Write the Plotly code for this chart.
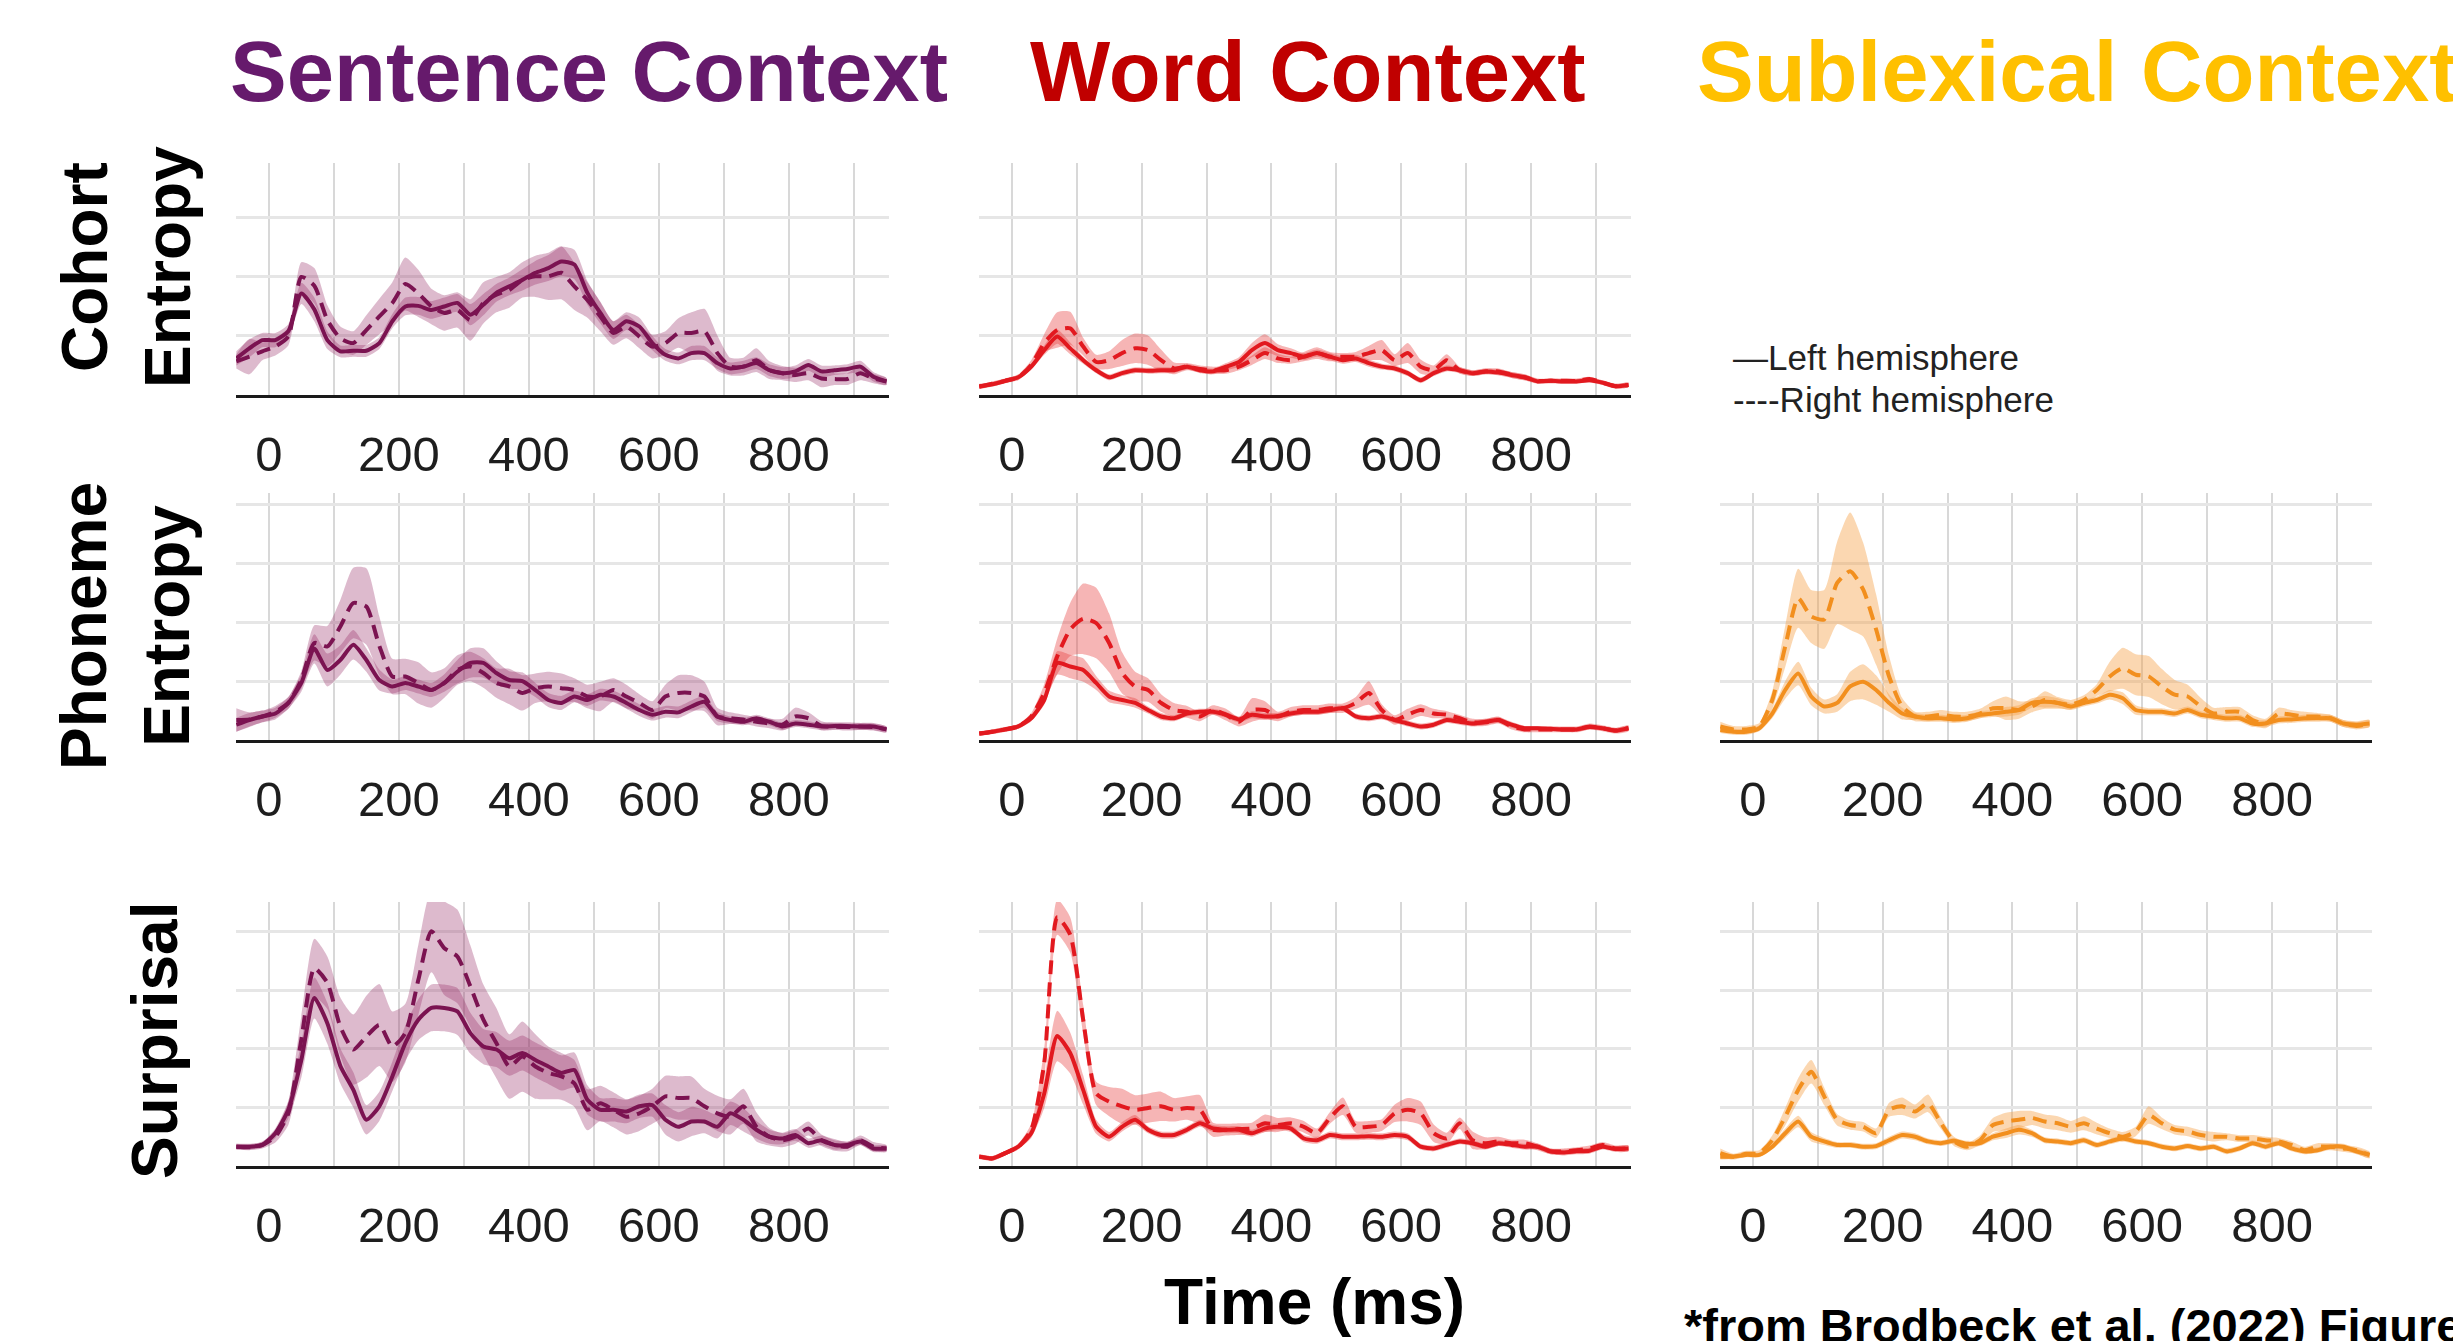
import plotly.graph_objects as go

PAGE_W, PAGE_H = 2461, 1341
OFF = 8                      # default page margin in front of the figure
W, H = PAGE_W - OFF, PAGE_H - OFF
T = list(range(-50, 951, 20))  # time axis (ms), 51 samples

# ---------------- Sentence context ----------------
SENT_COH_L = [0.62,0.79,0.93,0.93,1.08,1.72,1.45,0.93,0.74,0.75,0.75,0.88,1.25,1.50,1.51,1.44,1.50,1.56,1.36,1.53,
              1.73,1.84,1.95,2.07,2.15,2.26,2.21,1.73,1.39,1.10,1.25,1.16,0.88,0.68,0.62,0.71,0.71,0.54,0.45,0.48,
              0.54,0.42,0.37,0.40,0.51,0.40,0.42,0.44,0.48,0.31,0.23]
SENT_COH_R = [0.57,0.65,0.74,0.82,0.99,2.00,1.85,1.27,0.96,0.88,1.10,1.33,1.56,1.88,1.72,1.50,1.39,1.44,1.27,1.56,
              1.70,1.78,1.95,2.01,2.01,2.07,1.84,1.61,1.33,1.05,1.16,0.99,0.82,0.88,1.05,1.05,1.08,0.71,0.48,0.48,
              0.59,0.42,0.37,0.34,0.37,0.28,0.27,0.27,0.37,0.28,0.23]
SENT_COH_L_HW = [0.12,0.15,0.12,0.12,0.12,0.18,0.2,0.15,0.1,0.1,0.1,0.1,0.12,0.15,0.15,0.15,0.15,0.15,0.18,0.18,
                 0.15,0.15,0.18,0.2,0.22,0.25,0.25,0.2,0.18,0.15,0.15,0.15,0.12,0.1,0.1,0.12,0.12,0.1,0.1,0.1,
                 0.1,0.1,0.1,0.1,0.1,0.1,0.08,0.08,0.1,0.08,0.06]
SENT_COH_R_HW = [0.12,0.3,0.15,0.15,0.15,0.25,0.3,0.25,0.2,0.2,0.25,0.3,0.35,0.45,0.4,0.3,0.3,0.3,0.35,0.35,
                 0.3,0.3,0.3,0.35,0.4,0.45,0.4,0.3,0.25,0.2,0.2,0.2,0.2,0.2,0.25,0.35,0.38,0.3,0.15,0.15,
                 0.2,0.15,0.12,0.12,0.12,0.15,0.1,0.1,0.12,0.08,0.06]

SENT_PHO_L = [0.26,0.34,0.40,0.45,0.63,0.97,1.55,1.19,1.36,1.62,1.36,1.02,0.91,0.97,0.91,0.85,0.97,1.16,1.31,1.31,
              1.14,1.02,1.00,0.85,0.68,0.63,0.74,0.68,0.77,0.74,0.63,0.51,0.43,0.48,0.47,0.57,0.65,0.40,0.34,0.31,
              0.37,0.31,0.23,0.28,0.26,0.23,0.24,0.24,0.23,0.23,0.18]
SENT_PHO_R = [0.34,0.35,0.40,0.48,0.63,1.02,1.65,1.59,1.93,2.33,2.27,1.60,1.08,1.08,0.97,0.85,0.97,1.19,1.25,1.14,
              0.97,0.91,0.80,0.88,0.91,0.88,0.85,0.74,0.74,0.85,0.74,0.63,0.51,0.74,0.80,0.80,0.74,0.40,0.37,0.35,
              0.31,0.28,0.26,0.40,0.37,0.24,0.23,0.22,0.23,0.22,0.18]
SENT_PHO_L_HW = [0.12,0.12,0.1,0.1,0.1,0.15,0.25,0.28,0.25,0.25,0.2,0.18,0.12,0.12,0.12,0.12,0.15,0.2,0.25,0.25,
                 0.2,0.15,0.15,0.12,0.12,0.12,0.1,0.1,0.1,0.1,0.1,0.1,0.1,0.1,0.1,0.1,0.1,0.08,0.06,0.06,
                 0.06,0.06,0.06,0.06,0.06,0.06,0.06,0.06,0.06,0.06,0.05]
SENT_PHO_R_HW = [0.2,0.12,0.1,0.1,0.1,0.15,0.3,0.35,0.45,0.6,0.65,0.5,0.3,0.3,0.35,0.3,0.25,0.25,0.25,0.25,
                 0.25,0.3,0.3,0.25,0.25,0.25,0.2,0.2,0.25,0.2,0.2,0.15,0.15,0.2,0.3,0.3,0.25,0.15,0.1,0.08,
                 0.08,0.08,0.1,0.15,0.1,0.08,0.06,0.06,0.06,0.06,0.05]

SENT_SUR_L = [0.33,0.33,0.36,0.56,0.96,1.81,2.87,2.44,1.71,1.30,0.79,1.02,1.53,2.10,2.50,2.70,2.70,2.64,2.27,2.04,
              1.99,1.84,1.93,1.81,1.70,1.59,1.64,1.13,0.96,0.96,0.93,1.02,1.04,0.79,0.67,0.76,0.76,0.67,0.90,0.79,
              0.62,0.50,0.47,0.53,0.39,0.44,0.36,0.36,0.42,0.30,0.30]
SENT_SUR_R = [0.33,0.32,0.36,0.50,0.90,2.16,3.38,3.13,2.38,1.99,2.21,2.41,2.04,2.27,3.18,4.01,3.72,3.58,3.07,2.50,
              2.10,1.70,1.87,1.70,1.59,1.53,1.41,0.96,1.07,0.96,0.84,0.90,1.02,1.19,1.16,1.16,1.02,0.90,0.84,1.02,
              0.67,0.50,0.44,0.50,0.64,0.44,0.36,0.33,0.44,0.33,0.30]
SENT_SUR_L_HW = [0.05,0.05,0.05,0.08,0.15,0.3,0.35,0.35,0.3,0.3,0.25,0.25,0.25,0.3,0.35,0.4,0.4,0.4,0.35,0.3,
                 0.3,0.3,0.3,0.3,0.3,0.3,0.3,0.25,0.2,0.2,0.2,0.2,0.2,0.25,0.25,0.25,0.2,0.2,0.2,0.2,
                 0.15,0.12,0.1,0.1,0.08,0.08,0.08,0.06,0.06,0.06,0.05]
SENT_SUR_R_HW = [0.05,0.05,0.06,0.1,0.2,0.4,0.5,0.45,0.5,0.6,0.7,0.7,0.6,0.5,0.6,0.7,0.8,0.8,0.7,0.6,
                 0.6,0.55,0.6,0.55,0.45,0.4,0.4,0.35,0.3,0.3,0.3,0.3,0.3,0.35,0.37,0.37,0.3,0.3,0.3,0.3,
                 0.25,0.15,0.12,0.12,0.12,0.1,0.1,0.08,0.08,0.08,0.06]

# ---------------- Word context ----------------
WORD_COH_L = [0.15,0.18,0.24,0.30,0.48,0.76,0.99,0.79,0.59,0.42,0.30,0.37,0.42,0.41,0.42,0.42,0.48,0.42,0.40,0.48,
              0.56,0.76,0.88,0.76,0.71,0.65,0.71,0.65,0.59,0.62,0.54,0.48,0.45,0.37,0.25,0.37,0.45,0.42,0.37,0.40,
              0.38,0.34,0.30,0.23,0.24,0.23,0.23,0.25,0.21,0.15,0.17]
WORD_COH_R = [0.14,0.19,0.24,0.30,0.51,0.88,1.10,1.13,0.82,0.56,0.59,0.71,0.79,0.76,0.59,0.45,0.48,0.44,0.42,0.42,
              0.48,0.59,0.71,0.62,0.59,0.65,0.71,0.65,0.65,0.65,0.71,0.76,0.59,0.71,0.48,0.42,0.59,0.42,0.37,0.40,
              0.40,0.34,0.30,0.24,0.24,0.24,0.24,0.27,0.21,0.15,0.17]
WORD_COH_L_HW = [0.04,0.04,0.04,0.04,0.05,0.08,0.12,0.1,0.06,0.05,0.05,0.05,0.05,0.05,0.05,0.05,0.05,0.05,0.05,0.06,
                 0.08,0.12,0.15,0.1,0.08,0.06,0.06,0.06,0.06,0.06,0.06,0.05,0.05,0.05,0.05,0.05,0.05,0.05,0.05,0.05,
                 0.05,0.05,0.05,0.04,0.04,0.04,0.04,0.04,0.04,0.04,0.04]
WORD_COH_R_HW = [0.04,0.04,0.04,0.05,0.08,0.15,0.3,0.28,0.15,0.12,0.15,0.22,0.25,0.25,0.18,0.1,0.06,0.06,0.06,0.06,
                 0.06,0.08,0.1,0.08,0.06,0.08,0.1,0.08,0.06,0.08,0.12,0.17,0.1,0.17,0.12,0.08,0.1,0.06,0.05,0.05,
                 0.05,0.05,0.05,0.04,0.04,0.04,0.04,0.04,0.04,0.04,0.04]

WORD_PHO_L = [0.11,0.14,0.18,0.23,0.37,0.68,1.31,1.25,1.19,0.97,0.74,0.68,0.63,0.51,0.40,0.37,0.45,0.48,0.48,0.43,
              0.35,0.43,0.40,0.41,0.45,0.48,0.48,0.51,0.54,0.40,0.37,0.40,0.34,0.28,0.23,0.26,0.34,0.31,0.28,0.31,
              0.34,0.26,0.20,0.20,0.19,0.18,0.18,0.22,0.20,0.16,0.20]
WORD_PHO_R = [0.11,0.14,0.18,0.23,0.40,0.80,1.42,1.88,2.06,1.99,1.65,1.14,0.91,0.85,0.63,0.51,0.48,0.40,0.51,0.43,
              0.31,0.51,0.51,0.40,0.48,0.51,0.51,0.54,0.54,0.63,0.80,0.51,0.34,0.43,0.51,0.45,0.43,0.37,0.30,0.30,
              0.34,0.23,0.18,0.18,0.18,0.18,0.18,0.23,0.20,0.16,0.20]
WORD_PHO_L_HW = [0.04,0.04,0.04,0.04,0.05,0.08,0.2,0.2,0.2,0.12,0.1,0.08,0.08,0.06,0.06,0.05,0.05,0.05,0.05,0.05,
                 0.05,0.06,0.06,0.05,0.05,0.05,0.05,0.05,0.05,0.05,0.05,0.05,0.05,0.05,0.05,0.05,0.05,0.05,0.05,0.05,
                 0.05,0.05,0.04,0.04,0.04,0.04,0.04,0.04,0.04,0.04,0.04]
WORD_PHO_R_HW = [0.04,0.04,0.04,0.04,0.06,0.15,0.3,0.45,0.6,0.6,0.5,0.35,0.25,0.2,0.15,0.12,0.1,0.08,0.08,0.1,
                 0.08,0.2,0.15,0.08,0.08,0.08,0.08,0.08,0.08,0.1,0.2,0.1,0.08,0.1,0.1,0.08,0.06,0.06,0.06,0.06,
                 0.06,0.05,0.05,0.05,0.05,0.05,0.05,0.05,0.05,0.05,0.05]

WORD_SUR_L = [0.16,0.13,0.22,0.33,0.56,1.24,2.22,1.93,1.30,0.67,0.50,0.67,0.79,0.62,0.53,0.53,0.62,0.73,0.64,0.62,
              0.62,0.56,0.64,0.67,0.64,0.47,0.44,0.53,0.50,0.50,0.51,0.50,0.53,0.50,0.33,0.30,0.36,0.42,0.39,0.33,
              0.39,0.36,0.33,0.33,0.25,0.23,0.25,0.26,0.33,0.29,0.30]
WORD_SUR_R = [0.16,0.13,0.22,0.33,0.62,1.76,4.25,3.95,2.50,1.24,1.10,1.02,0.96,0.99,1.02,0.96,0.99,0.96,0.62,0.62,
              0.63,0.64,0.73,0.70,0.73,0.67,0.56,0.82,1.02,0.67,0.67,0.70,0.90,0.96,0.90,0.56,0.47,0.73,0.44,0.39,
              0.42,0.39,0.39,0.33,0.25,0.25,0.27,0.30,0.36,0.30,0.30]
WORD_SUR_L_HW = [0.04,0.04,0.04,0.04,0.08,0.25,0.43,0.35,0.25,0.12,0.08,0.08,0.08,0.06,0.06,0.06,0.06,0.06,0.06,0.06,
                 0.06,0.06,0.06,0.06,0.06,0.06,0.06,0.06,0.06,0.06,0.06,0.06,0.06,0.06,0.05,0.05,0.05,0.05,0.05,0.05,
                 0.05,0.05,0.05,0.05,0.05,0.05,0.05,0.05,0.05,0.05,0.05]
WORD_SUR_R_HW = [0.04,0.04,0.04,0.05,0.1,0.25,0.3,0.3,0.25,0.2,0.25,0.3,0.25,0.25,0.25,0.2,0.2,0.25,0.12,0.1,
                 0.1,0.1,0.15,0.12,0.1,0.1,0.08,0.1,0.15,0.1,0.1,0.1,0.15,0.2,0.2,0.15,0.1,0.1,0.15,0.1,
                 0.08,0.06,0.06,0.06,0.05,0.05,0.05,0.05,0.05,0.05,0.05]

# ---------------- Sublexical context ----------------
SUB_PHO_L = [0.17,0.14,0.14,0.20,0.45,0.85,1.13,0.74,0.57,0.63,0.91,0.99,0.85,0.63,0.45,0.40,0.37,0.37,0.35,0.37,
             0.43,0.45,0.48,0.51,0.63,0.65,0.63,0.57,0.63,0.68,0.77,0.71,0.51,0.48,0.48,0.45,0.51,0.43,0.40,0.37,
             0.37,0.28,0.28,0.34,0.35,0.37,0.37,0.37,0.28,0.26,0.28]
SUB_PHO_R = [0.23,0.18,0.18,0.23,0.68,1.59,2.41,2.10,2.05,2.67,2.87,2.56,1.88,1.08,0.57,0.40,0.40,0.43,0.40,0.40,
             0.45,0.54,0.54,0.51,0.57,0.68,0.63,0.60,0.68,0.85,1.08,1.22,1.11,1.08,0.91,0.77,0.74,0.57,0.45,0.48,
             0.48,0.34,0.28,0.45,0.43,0.40,0.40,0.37,0.28,0.24,0.28]
SUB_PHO_L_HW = [0.05,0.05,0.05,0.05,0.08,0.15,0.2,0.15,0.12,0.15,0.25,0.3,0.25,0.15,0.1,0.06,0.06,0.06,0.06,0.06,
                0.06,0.06,0.08,0.08,0.08,0.1,0.08,0.06,0.06,0.06,0.08,0.1,0.08,0.06,0.06,0.06,0.06,0.06,0.06,0.06,
                0.06,0.06,0.06,0.06,0.06,0.06,0.06,0.06,0.06,0.06,0.06]
SUB_PHO_R_HW = [0.08,0.06,0.06,0.06,0.15,0.35,0.5,0.45,0.5,0.7,1.0,0.8,0.6,0.35,0.15,0.08,0.08,0.08,0.08,0.08,
                0.08,0.12,0.2,0.15,0.1,0.15,0.1,0.08,0.08,0.1,0.25,0.35,0.35,0.35,0.3,0.25,0.2,0.15,0.1,0.08,
                0.08,0.08,0.08,0.1,0.08,0.08,0.06,0.06,0.06,0.06,0.06]

SUB_SUR_L = [0.16,0.16,0.19,0.19,0.33,0.56,0.76,0.50,0.42,0.36,0.36,0.33,0.34,0.44,0.53,0.50,0.42,0.39,0.43,0.38,
             0.39,0.50,0.56,0.62,0.56,0.44,0.42,0.39,0.44,0.36,0.42,0.47,0.42,0.39,0.33,0.30,0.34,0.30,0.33,0.25,
             0.30,0.39,0.33,0.39,0.30,0.25,0.27,0.33,0.33,0.25,0.19]
SUB_SUR_R = [0.22,0.16,0.21,0.22,0.44,0.84,1.30,1.61,1.19,0.79,0.70,0.67,0.56,0.96,1.02,0.93,1.07,0.73,0.42,0.33,
             0.44,0.70,0.76,0.79,0.82,0.76,0.73,0.67,0.73,0.64,0.56,0.50,0.59,0.87,0.73,0.62,0.59,0.53,0.50,0.50,
             0.47,0.47,0.44,0.42,0.36,0.27,0.33,0.33,0.30,0.27,0.19]
SUB_SUR_L_HW = [0.05,0.04,0.04,0.04,0.05,0.08,0.1,0.08,0.06,0.05,0.05,0.05,0.05,0.06,0.06,0.06,0.05,0.05,0.05,0.05,
                0.05,0.06,0.08,0.08,0.06,0.05,0.05,0.05,0.05,0.05,0.05,0.05,0.05,0.05,0.05,0.05,0.05,0.05,0.05,0.05,
                0.05,0.05,0.05,0.05,0.05,0.05,0.05,0.05,0.05,0.05,0.05]
SUB_SUR_R_HW = [0.08,0.05,0.05,0.05,0.08,0.15,0.2,0.2,0.15,0.1,0.08,0.08,0.08,0.12,0.15,0.12,0.15,0.1,0.08,0.06,
                0.08,0.12,0.15,0.15,0.12,0.12,0.12,0.1,0.12,0.1,0.08,0.08,0.08,0.15,0.1,0.08,0.08,0.08,0.08,0.06,
                0.06,0.06,0.06,0.06,0.06,0.06,0.06,0.06,0.06,0.06,0.06]

TICK_VALS = [0, 100, 200, 300, 400, 500, 600, 700, 800, 900]
TICK_TEXT = ["0", "", "200", "", "400", "", "600", "", "800", ""]

COLUMN_TITLES = ["Sentence Context", "Word Context", "Sublexical Context"]
ROW_LABELS = ["Cohort<br>Entropy", "Phoneme<br>Entropy", "Surprisal"]

# ---------------- layout geometry (page pixels) ----------------
COL_X = {1: (236, 889), 2: (979, 1631), 3: (1720, 2372)}
ROW_Y = {1: (163, 395, 3.93), 2: (493, 740, 4.2), 3: (902, 1166, 4.51)}


def fx(px):  # page x pixel -> paper fraction
    return (px - OFF) / W


def fy(py):  # page y pixel -> paper fraction
    return 1 - (py - OFF) / H


STYLE = {
    "sent": dict(line="#7B1351", fill="rgba(150,40,100,0.32)"),
    "word": dict(line="#E2191F", fill="rgba(232,60,60,0.38)"),
    "sub": dict(line="#F28F1E", fill="rgba(245,160,70,0.42)"),
}

PANELS = [
    (1, 1, "sent", SENT_COH_L, SENT_COH_L_HW, SENT_COH_R, SENT_COH_R_HW),
    (1, 2, "word", WORD_COH_L, WORD_COH_L_HW, WORD_COH_R, WORD_COH_R_HW),
    (2, 1, "sent", SENT_PHO_L, SENT_PHO_L_HW, SENT_PHO_R, SENT_PHO_R_HW),
    (2, 2, "word", WORD_PHO_L, WORD_PHO_L_HW, WORD_PHO_R, WORD_PHO_R_HW),
    (2, 3, "sub", SUB_PHO_L, SUB_PHO_L_HW, SUB_PHO_R, SUB_PHO_R_HW),
    (3, 1, "sent", SENT_SUR_L, SENT_SUR_L_HW, SENT_SUR_R, SENT_SUR_R_HW),
    (3, 2, "word", WORD_SUR_L, WORD_SUR_L_HW, WORD_SUR_R, WORD_SUR_R_HW),
    (3, 3, "sub", SUB_SUR_L, SUB_SUR_L_HW, SUB_SUR_R, SUB_SUR_R_HW),
]

FONT = "Liberation Sans, Arial, Helvetica, sans-serif"

fig = go.Figure()
layout = {}
for i, (r, c, ctx, L, Lhw, R, Rhw) in enumerate(PANELS):
    for arr in (L, Lhw, R, Rhw):
        assert len(arr) == len(T), (r, c, len(arr))
    sfx = "" if i == 0 else str(i + 1)
    xa, ya = "x" + sfx, "y" + sfx
    st = STYLE[ctx]
    for vals, hw in ((L, Lhw), (R, Rhw)):
        upper = [v + h for v, h in zip(vals, hw)]
        lower = [v - h for v, h in zip(vals, hw)]
        fig.add_trace(go.Scatter(
            x=T + T[::-1], y=upper + lower[::-1], fill="toself",
            fillcolor=st["fill"], mode="lines",
            line=dict(width=0, shape="spline", smoothing=0.6),
            hoverinfo="skip", showlegend=False, xaxis=xa, yaxis=ya))
    fig.add_trace(go.Scatter(x=T, y=L, mode="lines", showlegend=False,
                             line=dict(color=st["line"], width=4, shape="spline", smoothing=0.6),
                             xaxis=xa, yaxis=ya))
    fig.add_trace(go.Scatter(x=T, y=R, mode="lines", showlegend=False,
                             line=dict(color=st["line"], width=4, dash="14px,8px",
                                       shape="spline", smoothing=0.6),
                             xaxis=xa, yaxis=ya))
    x0, x1 = COL_X[c]
    yt, yb, ytop = ROW_Y[r]
    layout["xaxis" + sfx] = dict(
        domain=[fx(x0), fx(x1)], range=[-50.5, 954], anchor=ya,
        tickmode="array", tickvals=TICK_VALS, ticktext=TICK_TEXT,
        showgrid=True, gridcolor="#D8D8D8", gridwidth=1.5,
        showline=True, linecolor="#1A1A1A", linewidth=3, ticks="",
        tickfont=dict(size=49, color="#1E1E1E", family=FONT),
        ticklabelstandoff=14, zeroline=False, fixedrange=True)
    layout["yaxis" + sfx] = dict(
        domain=[fy(yb), fy(yt)], range=[0, ytop], anchor=xa,
        tickmode="array", tickvals=[1, 2, 3, 4], showticklabels=False,
        showgrid=True, gridcolor="#E6E6E6", gridwidth=3,
        zeroline=False, showline=False, ticks="", fixedrange=True)

ann = []
for txt, xl, col in zip(COLUMN_TITLES, (228, 1028, 1695), ("#661A6C", "#C00000", "#FFC000")):
    ann.append(dict(text="<b>" + txt + "</b>", x=fx(xl), y=fy(72), xref="paper", yref="paper",
                    xanchor="left", yanchor="middle", showarrow=False,
                    font=dict(size=85, color=col, family=FONT)))
for txt, xc, yc in zip(ROW_LABELS, (126, 126, 155), (267, 626, 1041)):
    ann.append(dict(text="<b>" + txt + "</b>", x=fx(xc), y=fy(yc), xref="paper", yref="paper",
                    xanchor="center", yanchor="middle", textangle=-90, showarrow=False,
                    font=dict(size=64, color="#000000", family=FONT)))
ann.append(dict(text="\u2014Left hemisphere", x=fx(1731), y=fy(358), xref="paper", yref="paper",
                xanchor="left", yanchor="middle", showarrow=False,
                font=dict(size=35, color="#222222", family=FONT)))
ann.append(dict(text="----Right hemisphere", x=fx(1731), y=fy(400), xref="paper", yref="paper",
                xanchor="left", yanchor="middle", showarrow=False,
                font=dict(size=35, color="#222222", family=FONT)))
ann.append(dict(text="<b>Time (ms)</b>", x=fx(1314), y=fy(1302), xref="paper", yref="paper",
                xanchor="center", yanchor="middle", showarrow=False,
                font=dict(size=64, color="#000000", family=FONT)))
ann.append(dict(text="<b>*from Brodbeck et al. (2022) Figure 4</b>", x=fx(1682), y=fy(1325),
                xref="paper", yref="paper", xanchor="left", yanchor="middle", showarrow=False,
                font=dict(size=47, color="#000000", family=FONT)))

fig.update_layout(
    width=W, height=H, margin=dict(l=0, r=0, t=0, b=0),
    paper_bgcolor="#FFFFFF", plot_bgcolor="rgba(0,0,0,0)",
    showlegend=False, annotations=ann, **layout)

fig.write_html("out.html")
